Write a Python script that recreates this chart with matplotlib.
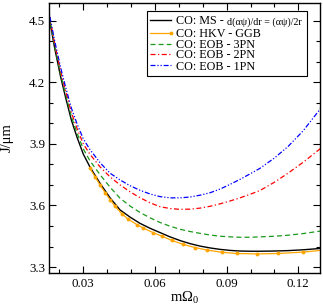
import matplotlib

matplotlib.use("Agg")
import matplotlib.pyplot as plt
from matplotlib.lines import Line2D
from matplotlib.patches import Rectangle
from matplotlib.ticker import MultipleLocator

# --- data ------------------------------------------------------------------
m_grid = [0.0150, 0.0180, 0.0205, 0.0225, 0.0250, 0.0275, 0.0300, 0.0328,
          0.0370, 0.0412, 0.0454, 0.0496, 0.0537, 0.0579, 0.0621, 0.0663,
          0.0705, 0.0747, 0.0789, 0.0831, 0.0873, 0.0915, 0.0956, 0.1000,
          0.1040, 0.1100, 0.1157, 0.1220, 0.1298]

j_ms = [4.560, 4.367, 4.227, 4.130, 4.016, 3.928, 3.850, 3.787,
        3.708, 3.637, 3.578, 3.543, 3.513, 3.489, 3.468, 3.447,
        3.429, 3.414, 3.402, 3.393, 3.386, 3.381, 3.378, 3.377,
        3.377, 3.378, 3.380, 3.384, 3.391]

j_3pn = [4.565, 4.377, 4.240, 4.145, 4.034, 3.949, 3.875, 3.817,
         3.750, 3.689, 3.635, 3.597, 3.566, 3.540, 3.517, 3.499,
         3.484, 3.473, 3.464, 3.456, 3.450, 3.447, 3.445, 3.445,
         3.447, 3.450, 3.455, 3.463, 3.476]

j_2pn = [4.575, 4.389, 4.255, 4.162, 4.053, 3.971, 3.900, 3.849,
         3.788, 3.739, 3.700, 3.666, 3.638, 3.613, 3.594, 3.585,
         3.581, 3.582, 3.587, 3.596, 3.608, 3.622, 3.637, 3.655,
         3.673, 3.713, 3.757, 3.810, 3.882]

j_1pn = [4.580, 4.402, 4.272, 4.180, 4.074, 3.994, 3.924, 3.872,
         3.808, 3.757, 3.724, 3.696, 3.674, 3.656, 3.643, 3.637,
         3.637, 3.641, 3.650, 3.662, 3.680, 3.703, 3.727, 3.755,
         3.781, 3.831, 3.887, 3.963, 4.079]

m_hkv = [0.0328, 0.0349, 0.0370, 0.0391, 0.0412, 0.0433, 0.0461, 0.0488,
         0.0524, 0.0551, 0.0593, 0.0628, 0.0670, 0.0719, 0.0768, 0.0817,
         0.0879, 0.0942, 0.1026, 0.1116, 0.1221, 0.1328]
j_hkv = [3.780, 3.740, 3.700, 3.663, 3.628, 3.596, 3.560, 3.533,
         3.507, 3.490, 3.467, 3.451, 3.430, 3.410, 3.395, 3.383,
         3.372, 3.366, 3.364, 3.366, 3.373, 3.385]

labels = ["CO: MS - ", "CO: HKV - GGB", "CO: EOB - 3PN",
          "CO: EOB - 2PN", "CO: EOB - 1PN"]
ms_condition = "d(\u03b1\u03c8)/dr = (\u03b1\u03c8)/2r"

# --- style -----------------------------------------------------------------
plt.rcParams.update(
    {
        "font.family": ["Liberation Serif", "DejaVu Serif"],
        "mathtext.fontset": "custom",
        "mathtext.rm": "Liberation Serif",
        "mathtext.it": "Liberation Serif:italic",
        "xtick.direction": "in",
        "ytick.direction": "in",
        "xtick.top": True,
        "ytick.right": True,
        "xtick.major.size": 5,
        "ytick.major.size": 5,
        "xtick.minor.size": 3,
        "ytick.minor.size": 3,
        "xtick.major.width": 0.8,
        "ytick.major.width": 0.8,
        "xtick.minor.width": 0.8,
        "ytick.minor.width": 0.8,
        "xtick.labelsize": 9.3,
        "ytick.labelsize": 9.3,
        "axes.linewidth": 1.0,
    }
)

styles = [
    dict(color="black", lw=1.0, ls="-"),
    dict(color="#ffa500", lw=0.9, ls="-", marker="o", ms=1.8, mec="#ffa500"),
    dict(color="#1a9a1a", lw=0.9, ls=(0, (4, 2.5))),
    dict(color="#ff0000", lw=0.9, ls=(0, (4, 2, 1, 2))),
    dict(color="#0000ff", lw=0.9, ls=(0, (4, 1.5, 1, 1.5, 1, 1.5))),
]

W, H = 323, 307
fig = plt.figure(figsize=(W / 100, H / 100), dpi=100)
ax_l, ax_r, ax_t, ax_b = 48.5, 320.5, 3.0, 273.0
ax = fig.add_axes([ax_l / W, 1 - ax_b / H, (ax_r - ax_l) / W, (ax_b - ax_t) / H])

ax.plot(m_grid, j_ms, **styles[0])
ax.plot(m_hkv, j_hkv, **styles[1])
ax.plot(m_grid, j_3pn, **styles[2])
ax.plot(m_grid, j_2pn, **styles[3])
ax.plot(m_grid, j_1pn, **styles[4])

ax.set_xlim(0.01543, 0.1293)
ax.set_ylim(3.271, 4.586)
ax.xaxis.set_major_locator(MultipleLocator(0.03))
ax.xaxis.set_minor_locator(MultipleLocator(0.01))
ax.yaxis.set_major_locator(MultipleLocator(0.3))
ax.yaxis.set_minor_locator(MultipleLocator(0.1))
ax.xaxis.set_major_formatter(lambda v, p: f"{v:.2f}")
ax.yaxis.set_major_formatter(lambda v, p: f"{v:.1f}")
ax.tick_params(axis="y", pad=2.5)
ax.tick_params(axis="x", pad=3.5)

ax.set_xlabel(r"m$\mathregular{\Omega_0}$", fontsize=10.5, labelpad=0)
ax.set_ylabel("J/\u03bcm", fontsize=10.5, labelpad=11)


# --- legend, drawn by hand so the MS entry can carry its small condition ----
def px(x, y):
    return ((x - ax_l) / (ax_r - ax_l), (ax_b - y) / (ax_b - ax_t))


x0, y0 = px(147, 76)
x1, y1 = px(307, 11)
ax.add_patch(Rectangle((x0, y0), x1 - x0, y1 - y0, transform=ax.transAxes,
                       facecolor="white", edgecolor="black", lw=0.8, zorder=5))

row_y = [20, 32.5, 43.5, 54, 65]
texts = []
for lab, st, yy in zip(labels, styles, row_y):
    (hx0, hy), (hx1, _) = px(150, yy), px(171, yy)
    kw = {k: v for k, v in st.items() if k not in ("marker", "ms", "mec")}
    ax.add_line(Line2D([hx0, hx1], [hy, hy], transform=ax.transAxes,
                       zorder=6, **kw))
    if "marker" in st:
        ax.add_line(Line2D([hx1], [hy], transform=ax.transAxes, zorder=6,
                           marker="o", ms=1.8, color=st["color"], ls="none"))
    tx, ty = px(176, yy + 4.5)
    texts.append(ax.text(tx, ty, lab.rstrip(), transform=ax.transAxes,
                         fontsize=8.7, va="baseline", ha="left", zorder=7))

ax.annotate(ms_condition, xy=(1, px(0, row_y[0] + 4.5)[1]),
            xycoords=(texts[0], "axes fraction"), xytext=(2.6, 0),
            textcoords="offset points", fontsize=7.2, va="baseline",
            ha="left", zorder=7)

fig.savefig("out.png", dpi=100)
